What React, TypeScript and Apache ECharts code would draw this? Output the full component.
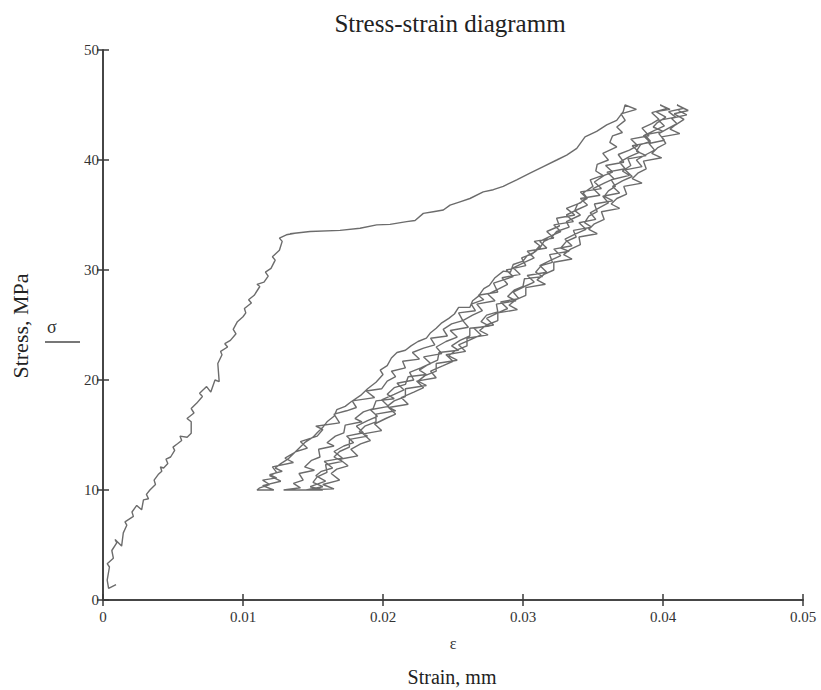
import React, { useEffect, useRef } from "react";
import * as echarts from "echarts";

// Chart texts
const titleText = "Stress-strain diagramm";
const xSymbol = "ε";
const xTitle = "Strain, mm";
const yTitle = "Stress, MPa";
const ySymbol = "σ";

// Axis ticks
const xTicks = [0, 0.01, 0.02, 0.03, 0.04, 0.05];
const yTicks = [0, 10, 20, 30, 40, 50];

// [strain, stress] — initial loading
const loading = [
  [0.00093, 1.4], [0.0004, 1.05], [0.0003, 1.8], [0.00046, 3.0], [0.0003, 3.3], [0.00074, 3.8],
  [0.00063, 4.5], [0.00098, 5.2], [0.00086, 5.5], [0.00133, 4.9], [0.00145, 6.1], [0.0017, 6.8],
  [0.00157, 7.1], [0.00217, 7.6], [0.00207, 8.0], [0.00241, 8.6], [0.00276, 8.2], [0.00289, 9.1],
  [0.00325, 9.2], [0.0031, 9.6], [0.00335, 10], [0.00375, 10.5], [0.00365, 10.9], [0.00394, 11.4],
  [0.0042, 11.7], [0.0041, 12.1], [0.00433, 12], [0.00463, 12.4], [0.0045, 12.8], [0.00483, 13],
  [0.00512, 13.6], [0.005, 13.9], [0.00532, 14.2], [0.00562, 14.5], [0.0055, 14.9], [0.00601, 14.8],
  [0.0063, 15.15], [0.0063, 16.2], [0.006, 16.5], [0.0065, 17], [0.0063, 17.4], [0.0067, 17.9],
  [0.0071, 18.5], [0.0069, 18.8], [0.0074, 19.4], [0.0077, 18.9], [0.008, 20], [0.0083, 19.85],
  [0.0082, 21.5], [0.0085, 22.3], [0.0084, 22.6], [0.0089, 23], [0.0087, 23.3], [0.0091, 23.6],
  [0.0095, 24.2], [0.0093, 24.6], [0.0096, 25.3], [0.01, 25.75], [0.0102, 26.1], [0.0101, 26.5],
  [0.0106, 27], [0.0104, 27.3], [0.0108, 27.7], [0.0112, 28.5], [0.011, 28.7], [0.0115, 28.9],
  [0.0118, 29.45], [0.0116, 29.8], [0.012, 30.15], [0.0123, 30.9], [0.0121, 31.2], [0.0126, 31.8],
  [0.0128, 32.6], [0.0126, 32.9], [0.0131, 33.2], [0.0135, 33.3], [0.014, 33.4],
];

// plateau up to first peak
const plateau = [
  [0.01336, 33.3], [0.01479, 33.5], [0.01693, 33.6], [0.01836, 33.8], [0.01955, 34.1], [0.0205, 34.15],
  [0.02169, 34.4], [0.02229, 34.5], [0.02288, 35.15], [0.02359, 35.3], [0.02431, 35.45], [0.02479, 35.9],
  [0.0255, 36.2], [0.02621, 36.5], [0.02716, 37.1], [0.02788, 37.3], [0.02859, 37.6], [0.02955, 38.2],
  [0.0305, 38.8], [0.03145, 39.4], [0.03241, 40], [0.03312, 40.45], [0.03384, 41.06], [0.03443, 42.1],
  [0.03526, 42.6], [0.03598, 43.2], [0.03669, 43.6], [0.03716, 44.4], [0.03729, 45],
];

const unload1 = [
  [0.0381, 44.6], [0.037, 44.2], [0.0373, 43.6], [0.0367, 43.0], [0.0371, 42.5], [0.0364, 42.2],
  [0.0362, 41.6], [0.0367, 41.2], [0.0357, 40.6], [0.0361, 40.0], [0.0353, 39.6], [0.0352, 39.0],
  [0.0357, 38.6], [0.0348, 38.2], [0.035, 37.6], [0.0343, 37.0], [0.0346, 36.5], [0.0339, 36.0],
  [0.0337, 35.4], [0.0341, 35.0], [0.0331, 34.4], [0.0333, 33.9], [0.0324, 33.5], [0.032, 32.9],
  [0.0315, 32.6], [0.0312, 32.0], [0.0308, 31.6], [0.0303, 31.3], [0.03, 30.8], [0.0293, 30.5],
  [0.0291, 29.8], [0.0286, 29.9], [0.028, 29.3], [0.0276, 28.6], [0.0272, 28.3], [0.0268, 27.6],
  [0.0264, 27.2], [0.0262, 26.6], [0.0254, 26.6], [0.0251, 26.0], [0.0247, 25.6], [0.0242, 25.2],
  [0.0238, 24.7], [0.0234, 24.3], [0.0231, 23.8], [0.0225, 23.5], [0.022, 23.1], [0.0216, 22.7],
  [0.021, 22.5], [0.0206, 22.0], [0.0203, 21.3], [0.0198, 20.9], [0.02, 20.5], [0.0195, 19.8],
  [0.0189, 19.2], [0.0184, 18.6], [0.0177, 18.0], [0.0173, 17.6], [0.0167, 17.3], [0.0165, 16.7],
  [0.016, 16.2], [0.0157, 15.7], [0.0153, 15.2], [0.015, 14.8], [0.0144, 14.3], [0.014, 13.8],
  [0.0136, 13.3], [0.0132, 12.8], [0.0127, 12.4], [0.0123, 12.0], [0.0128, 11.7], [0.0119, 11.4],
  [0.0124, 11.1], [0.0114, 10.9], [0.0119, 10.5], [0.0112, 10.2], [0.011, 10.0],
];

const reload1 = [
  [0.0122, 10.0], [0.0114, 10.4], [0.0127, 10.8], [0.0119, 11.3], [0.0124, 11.6], [0.0121, 12.1],
  [0.0136, 12.5], [0.013, 12.9], [0.0138, 13.5], [0.0146, 13.8], [0.0141, 14.4], [0.0153, 14.9],
  [0.0157, 15.5], [0.0152, 15.8], [0.0169, 16.1], [0.0165, 16.9], [0.0174, 17.2], [0.0181, 17.5],
  [0.0178, 18.1], [0.0194, 18.4], [0.0188, 19.0], [0.0199, 19.2], [0.0203, 19.9], [0.0209, 20.3],
  [0.0206, 20.8], [0.0216, 21.1], [0.0214, 21.7], [0.0226, 21.9], [0.0221, 22.5], [0.0229, 22.9],
  [0.0237, 23.2], [0.0234, 23.8], [0.0246, 24.0], [0.0243, 24.6], [0.0249, 25.1], [0.0257, 25.4],
  [0.0254, 26.1], [0.0266, 26.3], [0.0263, 26.9], [0.0272, 27.3], [0.0268, 27.7], [0.0282, 28.0],
  [0.0279, 28.8], [0.0286, 29.1], [0.0293, 29.4], [0.0288, 30.0], [0.0302, 30.4], [0.0299, 31.1],
  [0.0307, 31.5], [0.0312, 32.2], [0.0308, 32.6], [0.0322, 32.9], [0.0317, 33.5], [0.0326, 34.0],
  [0.0324, 34.7], [0.0337, 35.0], [0.0331, 35.6], [0.0341, 36.1], [0.0345, 36.6], [0.0341, 37.1],
  [0.0356, 37.4], [0.0351, 38.0], [0.0358, 38.6], [0.0364, 38.9], [0.0359, 39.5], [0.0372, 39.8],
  [0.0368, 40.5], [0.0376, 40.9], [0.0382, 41.3], [0.0377, 41.9], [0.039, 42.2], [0.0385, 42.9],
  [0.0392, 43.3], [0.0397, 43.7], [0.0392, 44.3], [0.0403, 44.7], [0.0398, 45.0],
];

const unload2 = [
  [0.0405, 44.6], [0.0395, 44.4], [0.0402, 43.9], [0.0396, 43.4], [0.0393, 43.0], [0.04, 42.6],
  [0.0387, 42.3], [0.0391, 41.7], [0.0384, 41.4], [0.0381, 40.8], [0.0388, 40.4], [0.0375, 40.1],
  [0.0377, 39.5], [0.0371, 39.0], [0.0376, 38.6], [0.0363, 38.2], [0.0366, 37.6], [0.0361, 37.2],
  [0.0358, 36.7], [0.0364, 36.3], [0.0351, 36.0], [0.0353, 35.3], [0.0347, 34.9], [0.0344, 34.3],
  [0.0349, 33.9], [0.0336, 33.6], [0.0338, 33.0], [0.0331, 32.6], [0.0327, 32.0], [0.0333, 31.7],
  [0.0319, 31.4], [0.0321, 30.7], [0.0313, 30.4], [0.0309, 29.8], [0.0314, 29.4], [0.0301, 29.2],
  [0.03, 28.5], [0.0294, 28.2], [0.0289, 27.6], [0.0295, 27.2], [0.0281, 26.9], [0.0282, 26.2],
  [0.0274, 25.9], [0.027, 25.3], [0.0276, 24.9], [0.0262, 24.7], [0.0262, 24.0], [0.0255, 23.6],
  [0.0249, 23.1], [0.0254, 22.7], [0.024, 22.5], [0.0239, 21.8], [0.0232, 21.4], [0.0226, 20.9],
  [0.0231, 20.5], [0.0218, 20.3], [0.0216, 19.6], [0.0208, 19.3], [0.0203, 18.7], [0.0208, 18.3],
  [0.0195, 18.1], [0.0193, 17.4], [0.0186, 17.1], [0.018, 16.5], [0.0185, 16.2], [0.0173, 15.9],
  [0.0172, 15.2], [0.0166, 14.9], [0.016, 14.3], [0.0165, 14.0], [0.0154, 13.7], [0.0155, 13.0],
  [0.0149, 12.7], [0.0144, 12.1], [0.0151, 11.8], [0.014, 11.5], [0.0143, 10.9], [0.0136, 10.6],
  [0.0141, 10.2], [0.0129, 10.0],
];

const reload2 = [
  [0.0157, 10.0], [0.0148, 10.3], [0.0159, 10.8], [0.0152, 11.3], [0.0156, 11.7], [0.0164, 12.0],
  [0.0158, 12.6], [0.0171, 12.9], [0.0165, 13.5], [0.0172, 14.0], [0.0179, 14.3], [0.0174, 14.9],
  [0.0186, 15.2], [0.0181, 15.8], [0.0189, 16.3], [0.0196, 16.7], [0.0191, 17.3], [0.0204, 17.6],
  [0.0199, 18.2], [0.0208, 18.7], [0.0215, 19.1], [0.021, 19.7], [0.0222, 20.0], [0.0219, 20.7],
  [0.0227, 21.1], [0.0234, 21.5], [0.0229, 22.1], [0.0242, 22.4], [0.0238, 23.0], [0.0245, 23.5],
  [0.0253, 23.9], [0.0248, 24.5], [0.0261, 24.8], [0.0257, 25.4], [0.0264, 25.9], [0.0271, 26.3],
  [0.0267, 26.9], [0.028, 27.2], [0.0275, 27.8], [0.0283, 28.3], [0.0289, 28.7], [0.0285, 29.3],
  [0.0298, 29.6], [0.0293, 30.2], [0.0301, 30.7], [0.0308, 31.1], [0.0303, 31.7], [0.0317, 32.0],
  [0.0312, 32.6], [0.032, 33.1], [0.0327, 33.5], [0.0322, 34.1], [0.0336, 34.4], [0.0331, 35.0],
  [0.0339, 35.5], [0.0346, 35.9], [0.0341, 36.5], [0.0355, 36.8], [0.035, 37.4], [0.0358, 37.9],
  [0.0365, 38.3], [0.036, 38.9], [0.0373, 39.2], [0.0369, 39.8], [0.0376, 40.3], [0.0383, 40.7],
  [0.0378, 41.3], [0.0391, 41.6], [0.0386, 42.2], [0.0394, 42.7], [0.0401, 43.1], [0.0397, 43.6],
  [0.0409, 43.9], [0.0404, 44.4], [0.0415, 44.7], [0.041, 45.0],
];

const unload3 = [
  [0.0418, 44.5], [0.0408, 44.2], [0.0415, 43.7], [0.0409, 43.2], [0.0405, 42.8], [0.0412, 42.4],
  [0.0399, 42.1], [0.0402, 41.5], [0.0396, 41.1], [0.0392, 40.6], [0.0399, 40.2], [0.0386, 39.9],
  [0.0388, 39.2], [0.0382, 38.8], [0.0378, 38.3], [0.0385, 37.9], [0.0372, 37.6], [0.0374, 36.9],
  [0.0367, 36.5], [0.0363, 36.0], [0.0369, 35.6], [0.0356, 35.3], [0.0358, 34.6], [0.0351, 34.2],
  [0.0347, 33.7], [0.0353, 33.3], [0.034, 33.0], [0.0341, 32.3], [0.0334, 31.9], [0.0329, 31.4],
  [0.0335, 31.0], [0.0322, 30.7], [0.0322, 30.0], [0.0315, 29.6], [0.031, 29.1], [0.0316, 28.7],
  [0.0302, 28.4], [0.0302, 27.7], [0.0295, 27.3], [0.029, 26.8], [0.0296, 26.4], [0.0282, 26.1],
  [0.0282, 25.4], [0.0274, 25.0], [0.0269, 24.5], [0.0275, 24.1], [0.026, 23.8], [0.026, 23.1],
  [0.0252, 22.7], [0.0247, 22.2], [0.0253, 21.8], [0.0238, 21.5], [0.0238, 20.8], [0.023, 20.4],
  [0.0225, 19.9], [0.0231, 19.5], [0.0216, 19.2], [0.0216, 18.5], [0.0208, 18.1], [0.0203, 17.6],
  [0.0209, 17.2], [0.0195, 16.9], [0.0195, 16.2], [0.0187, 15.8], [0.0183, 15.3], [0.0189, 14.9],
  [0.0176, 14.6], [0.0176, 13.9], [0.0169, 13.5], [0.0165, 13.0], [0.0171, 12.6], [0.0159, 12.3],
  [0.016, 11.6], [0.0153, 11.2], [0.015, 10.7], [0.0157, 10.3], [0.0145, 10.0], [0.0151, 10.0],
  [0.0141, 10.0],
];

const reload3 = [
  [0.0165, 10.1], [0.0157, 10.5], [0.0169, 10.9], [0.0163, 11.5], [0.0167, 11.9], [0.0175, 12.2],
  [0.0169, 12.8], [0.0182, 13.1], [0.0177, 13.7], [0.0184, 14.2], [0.0191, 14.5], [0.0186, 15.1],
  [0.0199, 15.4], [0.0194, 16.0], [0.0202, 16.5], [0.0209, 16.9], [0.0204, 17.5], [0.0218, 17.8],
  [0.0213, 18.4], [0.0222, 18.9], [0.0229, 19.3], [0.0224, 19.9], [0.0238, 20.2], [0.0234, 20.8],
  [0.0243, 21.3], [0.025, 21.7], [0.0245, 22.3], [0.0259, 22.6], [0.0254, 23.2], [0.0263, 23.7],
  [0.027, 24.1], [0.0265, 24.7], [0.0279, 25.0], [0.0274, 25.6], [0.0282, 26.1], [0.0289, 26.5],
  [0.0284, 27.1], [0.0297, 27.4], [0.0293, 28.0], [0.0301, 28.5], [0.0308, 28.9], [0.0303, 29.5],
  [0.0317, 29.8], [0.0312, 30.4], [0.032, 30.9], [0.0327, 31.3], [0.0322, 31.9], [0.0335, 32.2],
  [0.033, 32.8], [0.0338, 33.3], [0.0345, 33.7], [0.034, 34.3], [0.0352, 34.6], [0.0348, 35.2],
  [0.0355, 35.7], [0.0361, 36.1], [0.0357, 36.7], [0.0369, 37.0], [0.0364, 37.6], [0.0371, 38.1],
  [0.0378, 38.5], [0.0373, 39.1], [0.0385, 39.4], [0.0381, 40.0], [0.0388, 40.5], [0.0394, 40.9],
  [0.039, 41.5], [0.0401, 41.8], [0.0397, 42.4], [0.0404, 42.9], [0.041, 43.3], [0.0406, 43.8],
  [0.0417, 44.1], [0.0411, 44.5],
];

const FONT = "'Liberation Serif', 'Times New Roman', serif";
const AXIS_COLOR = "#3a3a3a";
const LINE_COLOR = "#6c6c6c";

const GRID = { left: 103, top: 50, width: 700, height: 550 };

export default function App() {
  const ref = useRef<HTMLDivElement>(null);

  useEffect(() => {
    document.body.style.margin = "0";
    if (!ref.current) return;
    const chart = echarts.init(ref.current, null, { renderer: "svg" });

    const path = [
      ...loading,
      ...plateau,
      ...unload1,
      ...reload1,
      ...unload2,
      ...reload2,
      ...unload3,
      ...reload3,
    ];

    const fmtX = (v: number) => String(Number(v.toFixed(2)));

    const baseAxisLine = { show: true, lineStyle: { color: AXIS_COLOR, width: 1.5 } };
    const baseTick = { show: true, inside: true, length: 6, lineStyle: { color: AXIS_COLOR, width: 1.5 } };

    const option: any = {
      animation: false,
      backgroundColor: "#ffffff",
      grid: { ...GRID, containLabel: false },
      xAxis: [
        {
          type: "value",
          min: xTicks[0],
          max: xTicks[xTicks.length - 1],
          interval: 0.01,
          position: "bottom",
          axisLine: baseAxisLine,
          axisTick: baseTick,
          splitLine: { show: false },
          axisLabel: {
            show: true,
            margin: 9,
            color: "#333",
            fontFamily: FONT,
            fontSize: 15,
            formatter: fmtX,
          },
        },
        {
          type: "value",
          min: xTicks[0],
          max: xTicks[xTicks.length - 1],
          interval: 0.01,
          position: "top",
          axisLine: baseAxisLine,
          axisTick: baseTick,
          splitLine: { show: false },
          axisLabel: { show: false },
        },
      ],
      yAxis: [
        {
          type: "value",
          min: yTicks[0],
          max: yTicks[yTicks.length - 1],
          interval: 10,
          position: "left",
          axisLine: baseAxisLine,
          axisTick: baseTick,
          splitLine: { show: false },
          axisLabel: {
            show: true,
            margin: 4,
            color: "#333",
            fontFamily: FONT,
            fontSize: 15,
          },
        },
        {
          type: "value",
          min: yTicks[0],
          max: yTicks[yTicks.length - 1],
          interval: 10,
          position: "right",
          axisLine: baseAxisLine,
          axisTick: baseTick,
          splitLine: { show: false },
          axisLabel: { show: false },
        },
      ],
      series: [
        {
          type: "line",
          name: ySymbol,
          xAxisIndex: 0,
          yAxisIndex: 0,
          data: path,
          showSymbol: false,
          symbol: "none",
          lineStyle: { color: LINE_COLOR, width: 1.4 },
          clip: true,
        },
      ],
      graphic: [
        {
          type: "text",
          x: 450,
          y: 23,
          style: {
            text: titleText,
            font: `25px ${FONT}`,
            fill: "#222",
            textAlign: "center",
            textVerticalAlign: "middle",
          },
        },
        {
          type: "text",
          x: 453,
          y: 643,
          style: {
            text: xSymbol,
            font: `16px ${FONT}`,
            fill: "#333",
            textAlign: "center",
            textVerticalAlign: "middle",
          },
        },
        {
          type: "text",
          x: 452,
          y: 677,
          style: {
            text: xTitle,
            font: `20px ${FONT}`,
            fill: "#222",
            textAlign: "center",
            textVerticalAlign: "middle",
          },
        },
        {
          type: "text",
          x: 20,
          y: 326,
          rotation: Math.PI / 2,
          style: {
            text: yTitle,
            font: `22px ${FONT}`,
            fill: "#222",
            textAlign: "center",
            textVerticalAlign: "middle",
          },
        },
        {
          type: "text",
          x: 47,
          y: 327,
          style: {
            text: ySymbol,
            font: `18px ${FONT}`,
            fill: "#333",
            textAlign: "left",
            textVerticalAlign: "middle",
          },
        },
        {
          type: "line",
          shape: { x1: 45, y1: 342, x2: 80, y2: 342 },
          style: { stroke: "#777", lineWidth: 2 },
        },
      ],
    };

    chart.setOption(option);
    return () => {
      chart.dispose();
    };
  }, []);

  return <div ref={ref} style={{ width: 821, height: 690 }} />;
}
